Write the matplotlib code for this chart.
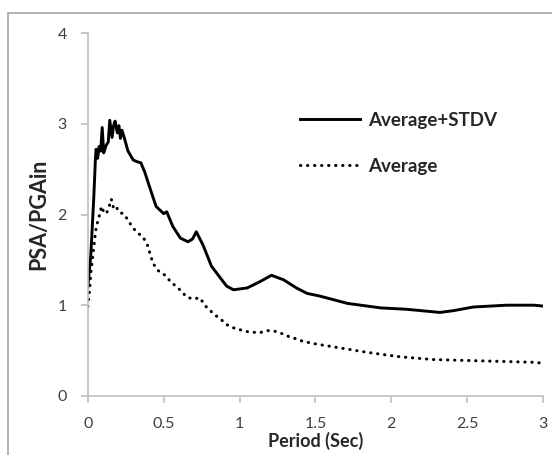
import matplotlib
matplotlib.use("Agg")
import matplotlib.pyplot as plt
from matplotlib.patches import Rectangle

plt.rcParams['font.family'] = ['Lato', 'DejaVu Sans']

# Average+STDV curve
stdv_x = [0.0, 0.02, 0.04, 0.05, 0.055, 0.065, 0.075, 0.085, 0.095, 0.105, 0.12, 0.135,
          0.145, 0.16, 0.17, 0.18, 0.195, 0.205, 0.215, 0.225, 0.24, 0.265, 0.30, 0.33,
          0.35, 0.375, 0.41, 0.45, 0.50, 0.52, 0.56, 0.61, 0.66, 0.69, 0.715, 0.76,
          0.815, 0.86, 0.915, 0.96, 1.05, 1.135, 1.21, 1.29, 1.375, 1.445, 1.53, 1.71,
          1.93, 2.10, 2.32, 2.41, 2.54, 2.76, 2.94, 3.0]
stdv_y = [1.20, 1.55, 2.20, 2.60, 2.72, 2.62, 2.75, 2.70, 2.96, 2.68, 2.76, 2.80,
          3.04, 2.85, 2.98, 3.03, 2.90, 2.98, 2.84, 2.93, 2.85, 2.70, 2.60, 2.58,
          2.57, 2.47, 2.29, 2.09, 2.01, 2.03, 1.87, 1.74, 1.70, 1.73, 1.81, 1.66,
          1.43, 1.33, 1.21, 1.17, 1.19, 1.26, 1.33, 1.28, 1.19, 1.13, 1.10, 1.02,
          0.97, 0.955, 0.92, 0.94, 0.98, 1.00, 1.00, 0.99]

# Average curve
avg_x = [0.0, 0.01, 0.02, 0.035, 0.045, 0.055, 0.065, 0.08, 0.09, 0.11, 0.125, 0.145,
         0.155, 0.17, 0.185, 0.21, 0.235, 0.265, 0.29, 0.325, 0.36, 0.39, 0.41, 0.43,
         0.47, 0.51, 0.545, 0.58, 0.62, 0.65, 0.69, 0.74, 0.77, 0.80, 0.84, 0.88,
         0.91, 0.96, 1.00, 1.045, 1.10, 1.14, 1.19, 1.24, 1.29, 1.33, 1.37, 1.42,
         1.51, 1.62, 1.84, 2.06, 2.28, 2.50, 2.72, 2.94, 3.0]
avg_y = [0.985, 1.13, 1.35, 1.57, 1.72, 1.85, 1.92, 2.01, 2.09, 2.01, 2.02, 2.11,
         2.17, 2.07, 2.09, 2.02, 2.01, 1.94, 1.87, 1.80, 1.76, 1.68, 1.57, 1.46,
         1.37, 1.33, 1.26, 1.21, 1.15, 1.09, 1.07, 1.08, 1.00, 0.95, 0.89, 0.84,
         0.79, 0.75, 0.73, 0.71, 0.70, 0.70, 0.72, 0.71, 0.68, 0.65, 0.63, 0.60,
         0.57, 0.54, 0.48, 0.43, 0.40, 0.39, 0.38, 0.37, 0.36]

x_ticks = [0, 0.5, 1, 1.5, 2, 2.5, 3]
x_labels = ['0', '0.5', '1', '1.5', '2', '2.5', '3']
y_ticks = [0, 1, 2, 3, 4]

fig = plt.figure(figsize=(5.52, 4.55), dpi=100)
ax = fig.add_axes([0.159, 0.130, 0.825, 0.797])

# chart area frame
fig.patches.append(Rectangle((8 / 552, -0.05), 1.2, 1 - 13 / 455 + 0.05,
                             transform=fig.transFigure, fill=False,
                             edgecolor='#a6a6a6', linewidth=1.2))

ax.plot(stdv_x, stdv_y, color='black', linewidth=2.1, label='Average+STDV')
ax.plot(avg_x, avg_y, color='black', linewidth=2.2, linestyle=(0, (0.1, 2.2)),
        dash_capstyle='round', label='Average')

ax.set_xlim(0, 3)
ax.set_ylim(0, 4)
ax.set_xticks(x_ticks)
ax.set_xticklabels(x_labels)
ax.set_yticks(y_ticks)

for s in ['top', 'right']:
    ax.spines[s].set_visible(False)
for s in ['left', 'bottom']:
    ax.spines[s].set_color('#bfbfbf')
    ax.spines[s].set_linewidth(1.2)
ax.tick_params(colors='#bfbfbf', labelcolor='#404040', labelsize=11.5, length=5, width=1.2)
ax.tick_params(axis='x', pad=10)
ax.tick_params(axis='y', pad=10)

ax.set_xlabel('Period (Sec)', fontsize=13, fontweight='bold', color='#262626')
ax.set_ylabel('PSA/PGAin', fontsize=15.5, fontweight='bold', color='#262626')
ax.xaxis.label.set_va('center')
ax.yaxis.label.set_va('center')
ax.xaxis.set_label_coords(0.5, -0.125)
ax.yaxis.set_label_coords(-0.108, 0.5)

leg = ax.legend(loc='upper left', bbox_to_anchor=(0.43, 0.83), frameon=False,
                handlelength=3.2, handletextpad=0.4, labelspacing=1.55,
                prop={'size': 13.5, 'weight': 'bold'})
for t in leg.get_texts():
    t.set_color('#262626')

fig.savefig('out.png', dpi=100)
